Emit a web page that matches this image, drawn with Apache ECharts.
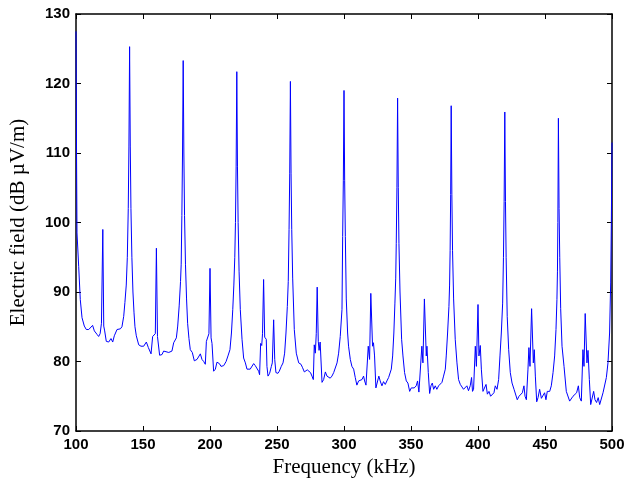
<!DOCTYPE html>
<html>
<head>
<meta charset="utf-8">
<script src="https://cdn.jsdelivr.net/npm/echarts@6/dist/echarts.min.js"></script>
<style>
html,body{margin:0;padding:0;background:#fff;}
#chart{width:629px;height:483px;}
</style>
</head>
<body>
<div id="chart"></div>
<script>
const freq = [
100,100.4,100.75,102,103.2,104.5,106.2,107.7,109.5,110.7,112.4,113.7,115.7,116.9,118,119,120,120.7,121.4,122.6,124.4,126.1,127.4,128.6,130.6,133.1,134.3,135.6,136.5,137.5,138.3,139,139.5,140,140.5,141,141.7,142.5,143.3,144,145,146.8,148.5,150.5,152.5,154,156,157.2,158.3,159.2,160,160.8,161.7,162.4,164.2,165.4,166.7,169.2,171.6,172.9,174.9,175.9,177,178,178.5,179,179.5,180,180.5,181,181.7,182.5,183.3,184.3,185.3,186.8,188.3,190.3,191.5,192.8,194,195.3,196.5,197.3,198.3,199.2,200,200.8,201.5,202.7,204,205.2,207,208.2,210.2,212,213.4,214.9,216,217,217.8,218.5,219,219.5,220,220.5,221,221.7,222.6,223.9,225.1,226.4,227.6,228.8,230,231.3,232.6,233.8,235,236.3,237,237.8,238.6,239.2,240,240.8,241.3,242,242.5,243.3,244.5,245.8,246.5,247.5,248.3,249.2,250.7,251.7,253.2,254.5,255.7,256.7,257.7,258.4,259,259.5,260,260.5,261,261.7,262.9,264.4,266.2,267.9,269.1,270.4,271.6,272.6,274,275,276.1,277.1,277.8,278.6,279.3,280,280.8,281.4,282.2,283.6,284.8,286.1,287.3,288.5,289.7,291,292.3,293.5,294.8,296,297.2,298.5,299,299.5,300,300.5,301,301.7,302.7,303.4,304.7,305.9,307.2,308.4,309.6,310.9,312.1,313.4,314.6,315.4,316.4,317.1,318.1,319.1,320,321.3,322,322.8,323.8,325,326,327,328.3,329.5,330.8,332,333.3,334.5,335.3,336.3,337.2,338,338.6,339,339.5,340,340.5,341,341.8,343,344,345.2,346.5,347.7,349,350.2,351.4,352.4,353.9,354.9,355.9,356.9,358.1,358.9,360,361.4,361.9,362.9,363.9,364.9,365.9,366.9,368.1,369.3,370.6,371.8,373.1,374.3,375.6,376.3,377.3,378.3,378.8,379.2,379.6,380,380.5,381,381.8,383,384.3,385.5,386.8,388,389.2,390.4,391.7,392.9,394.2,395.2,395.9,396.7,398,398.8,400,400.7,401.7,402.5,403.7,405,406,407,408.2,409.4,410.7,411.9,412.9,414.2,415.4,416.4,417.4,418.4,419,419.5,420,420.5,421,421.8,422.9,424.1,425.4,426.9,428.1,429.3,430.6,431.8,433.1,434.3,435.1,436.1,437.3,438,438.8,440,441.3,442,442.8,443.8,444.8,446,447.3,448.5,449.7,450.7,451.7,453.5,454.7,456,457.2,458.2,458.9,459.3,459.6,460,460.5,461,461.7,462.7,464.2,465.9,467.2,468.4,469.6,470.9,472.1,473.6,474.9,475.9,477.1,478.3,479.1,480,481.3,482.1,483.1,484.1,485.3,486.3,487.3,488.5,489.7,490.8,492,493.3,494.5,495.8,497,498.2,499,499.5,500
];
const field = [
127.5,110,98.5,93.7,88.9,86.3,85.1,84.6,84.6,84.7,85.2,84.4,83.9,83.6,84.0,85.5,99.0,85.1,84.4,82.9,82.8,83.3,82.8,83.7,84.6,84.7,85.0,86.5,88.5,91,95,102,111,125.3,111,102,95,90,87,85,83.7,82.4,82.2,82.2,82.8,82.0,81.1,83.6,83.4,84,96.3,83.6,83.7,80.9,81.0,81.5,81.3,81.3,81.5,82.7,83.4,85.1,88,91.5,94,101,110,123.3,110,101,94,89,85.5,83.3,81.7,81.3,80.1,80.3,80.2,81.1,80.3,80.0,79.6,82.9,83.1,84,93.4,83.4,82.6,78.6,78.9,79.9,79.7,79.3,79.4,80.0,80.8,81.7,84.1,87.5,91,95,100,108,121.7,108,100,93,87.5,83.2,80.5,79.8,78.9,78.7,78.9,79.1,79.7,79.4,79.3,78.6,78.1,82.6,82.3,84,91.8,83.5,83.3,83.2,79.3,77.9,78.3,79.3,79.8,86.0,80.3,78.4,78.3,78.6,79.3,79.8,81.2,84.1,87.9,91.5,99,107,120.3,107,99,92,84.6,81.2,79.8,79.6,79.1,78.5,78.4,78.8,78.6,78.4,77.9,77.4,82.4,81.2,84,90.7,82.9,81.6,82.8,77.0,77.4,78.5,77.9,77.7,77.6,77.9,78.4,78.6,79.8,81.2,83.6,87.5,98,106,119,106,98,89,84.1,82.2,80.3,79.3,78.9,77.7,76.6,77.2,77.0,77.4,77.9,77.2,76.6,76.8,82.2,80.3,89.8,82.2,82.7,80.8,76.2,76.4,77.9,77.2,76.5,77.1,76.7,77.2,77.7,77.9,78.9,80.8,84.1,88.4,92,97,105,117.9,105,97,90,83.2,80.8,78.4,77.2,76.9,75.7,76.2,76.0,76.2,76.5,77.2,75.6,75.5,82.2,79.8,89.0,80.8,82.2,78.4,75.4,76.5,76.9,76.0,76.5,76.0,76.5,76.7,77.0,77.9,78.9,80.8,84.1,87.9,91,96,104,116.8,104,96,89,83.2,79.8,77.4,76.7,76.7,76.0,75.8,76.5,75.8,76.5,77.7,75.7,76.0,82.2,79.3,88.2,80.8,82.3,78.9,75.7,75.5,76.7,75.3,75.7,75.0,74.8,75.5,76.5,76.0,77.4,80.8,84.1,88.4,95,103,115.9,103,95,86.5,81.7,78.4,76.9,76.0,76.1,74.5,75.0,75.2,75.5,76.5,75.0,74.5,78.9,82.0,79.3,87.6,79.8,81.7,77.9,74.2,74.8,76.0,74.7,74.8,75.5,74.5,75.7,75.7,76.5,78.4,80.8,84.6,88.9,93,100,115,102,95,87.6,82.2,79.3,75.7,75.6,74.3,74.5,75.0,75.0,75.5,76.5,74.8,74.3,81.7,79.3,86.9,79.8,81.6,77.4,73.8,73.8,75.7,74.5,74.1,74.8,73.8,73.9,75.5,75.5,77.7,79.8,84.1,91.3,100,111.5
];
const xTicks = { min: 100, max: 500, interval: 50 };
const yTicks = { min: 70, max: 130, interval: 10 };

const points = freq.map((f, i) => [f, field[i]]);

const chart = echarts.init(document.getElementById('chart'), null, { renderer: 'canvas' });
const lbl = { color: '#000', fontFamily: 'Liberation Sans, Arial, sans-serif', fontWeight: 'bold', fontSize: 15 };
const axLine = { show: true, onZero: false, lineStyle: { color: '#000', width: 1.5 } };
const tick = { show: true, inside: true, length: 5, lineStyle: { color: '#000', width: 1 } };
const titleStyle = { color: '#000', fontFamily: 'Liberation Serif, Times New Roman, serif', fontSize: 21 };
chart.setOption({
  animation: false,
  backgroundColor: '#fff',
  grid: { left: 76, right: 17, top: 14, bottom: 51, containLabel: false },
  xAxis: [
    { type: 'value', position: 'bottom', min: xTicks.min, max: xTicks.max, interval: xTicks.interval,
      name: 'Frequency (kHz)', nameLocation: 'middle', nameGap: 26, nameTextStyle: titleStyle,
      axisLine: axLine, axisTick: tick, splitLine: { show: false },
      axisLabel: Object.assign({ margin: 6 }, lbl) },
    { type: 'value', position: 'top', min: xTicks.min, max: xTicks.max, interval: xTicks.interval,
      axisLine: axLine, axisTick: tick, splitLine: { show: false }, axisLabel: { show: false } }
  ],
  yAxis: [
    { type: 'value', position: 'left', min: yTicks.min, max: yTicks.max, interval: yTicks.interval,
      name: 'Electric field (dB µV/m)', nameLocation: 'middle', nameGap: 47, nameRotate: 90, nameTextStyle: titleStyle,
      axisLine: axLine, axisTick: tick, splitLine: { show: false },
      axisLabel: Object.assign({ margin: 6 }, lbl) },
    { type: 'value', position: 'right', min: yTicks.min, max: yTicks.max, interval: yTicks.interval,
      axisLine: axLine, axisTick: tick, splitLine: { show: false }, axisLabel: { show: false } }
  ],
  series: [{
    type: 'line', xAxisIndex: 0, yAxisIndex: 0, data: points,
    showSymbol: false, symbol: 'none', clip: true,
    lineStyle: { color: '#0000ff', width: 1 }
  }]
});
</script>
</body>
</html>
